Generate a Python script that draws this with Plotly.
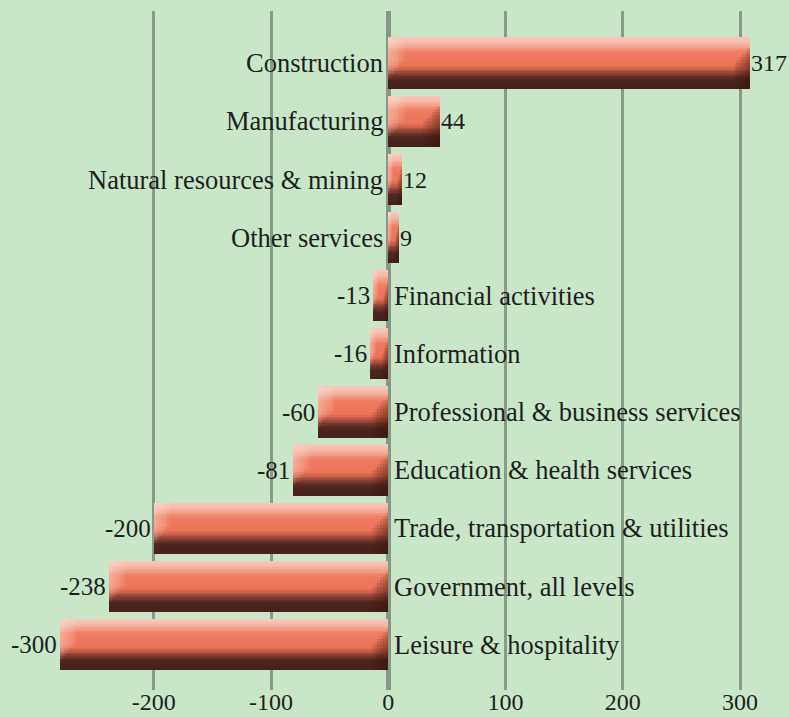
import plotly.graph_objects as go

categories = ["Construction", "Manufacturing", "Natural resources & mining", "Other services",
              "Financial activities", "Information", "Professional & business services",
              "Education & health services", "Trade, transportation & utilities",
              "Government, all levels", "Leisure & hospitality"]
values = [317, 44, 12, 9, -13, -16, -60, -81, -200, -238, -300]
x_ticks = [-200, -100, 0, 100, 200, 300]
x_range = [-280, 308.5]

FONT = "Liberation Serif"
BG = "#c9e6c9"
W = 0.872
pos = list(range(len(categories)))

def hex2rgb(h):
    h = h.lstrip('#')
    return tuple(int(h[i:i + 2], 16) for i in (0, 2, 4))

stops = [(0.0, "#f7cabd"), (0.12, "#f5b7a5"), (0.30, "#ef7c60"), (0.55, "#ec7459"),
         (0.63, "#c65e48"), (0.73, "#7c3b30"), (0.83, "#4c251f"), (1.0, "#46211b")]

def color_at(t):
    for (a, ca), (b, cb) in zip(stops[:-1], stops[1:]):
        if a <= t <= b:
            f = (t - a) / (b - a) if b > a else 0
            r1, g1, b1 = hex2rgb(ca)
            r2, g2, b2 = hex2rgb(cb)
            return "rgb(%d,%d,%d)" % (round(r1 + (r2 - r1) * f), round(g1 + (g2 - g1) * f), round(b1 + (b2 - b1) * f))
    return stops[-1][1]

fig = go.Figure()
N = 30
for k in range(N):
    a = k / N
    fig.add_trace(go.Bar(
        orientation="h", x=values, y=pos, base=0,
        width=W / N * 1.05, offset=-W / 2 + W * a,
        marker=dict(color=color_at((k + 0.5) / N), line=dict(width=0)),
        hoverinfo="skip", showlegend=False))

# end bevels (horizontal fades at both ends of every visible bar)
vis = [min(max(v, x_range[0]), x_range[1]) for v in values]
lefts = [min(0, v) for v in vis]
rights = [max(0, v) for v in vis]
M = 6
for j in range(M):
    frac = (j + 1) / M
    dl = [min(14, abs(v) * 0.35) * frac for v in vis]
    fig.add_trace(go.Bar(orientation="h", x=dl, y=pos, base=lefts,
                         width=W * (0.78 - 0.06 * j), offset=-W / 2,
                         marker=dict(color="rgba(255,235,225,0.09)", line=dict(width=0)),
                         hoverinfo="skip", showlegend=False))
    fig.add_trace(go.Bar(orientation="h", x=dl, y=pos, base=[r - dd for r, dd in zip(rights, dl)],
                         width=W * (0.80 - 0.06 * j), offset=W / 2 - W * (0.80 - 0.06 * j),
                         marker=dict(color="rgba(60,20,14,0.10)", line=dict(width=0)),
                         hoverinfo="skip", showlegend=False))

ann = []
for i, (c, v, vv) in enumerate(zip(categories, values, vis)):
    if v >= 0:
        ann.append(dict(x=0, y=i, text=c, xanchor="right", xshift=-3, showarrow=False,
                        font=dict(family=FONT, size=26.5, color="#1e1e1e")))
        ann.append(dict(x=vv, y=i, text=str(v), xanchor="left", xshift=-1, showarrow=False,
                        font=dict(family=FONT, size=24, color="#1e1e1e")))
    else:
        ann.append(dict(x=0, y=i, text=c, xanchor="left", xshift=4, showarrow=False,
                        font=dict(family=FONT, size=26.5, color="#1e1e1e")))
        ann.append(dict(x=vv, y=i, text=str(v), xanchor="right", xshift=-1, showarrow=False,
                        font=dict(family=FONT, size=25, color="#1e1e1e")))
for a in ann:
    a.update(xref="x", yref="y")

fig.update_layout(
    width=789, height=717, barmode="overlay", bargap=0,
    paper_bgcolor=BG, plot_bgcolor=BG,
    margin=dict(l=60, r=39, t=11, b=27),
    annotations=ann,
    xaxis=dict(range=x_range, tickvals=x_ticks, ticktext=[str(t) for t in x_ticks],
               showgrid=True, gridcolor="#889a88", gridwidth=2.5,
               zeroline=True, zerolinecolor="#879787", zerolinewidth=5,
               showline=False, ticks="", ticklen=0, automargin=False,
               ticklabelstandoff=-5,
               tickfont=dict(family=FONT, size=24, color="#1e1e1e")),
    yaxis=dict(range=[10.78, -0.90], showticklabels=False, showgrid=False,
               zeroline=False, showline=False, automargin=False),
)
fig.write_html("out.html")
